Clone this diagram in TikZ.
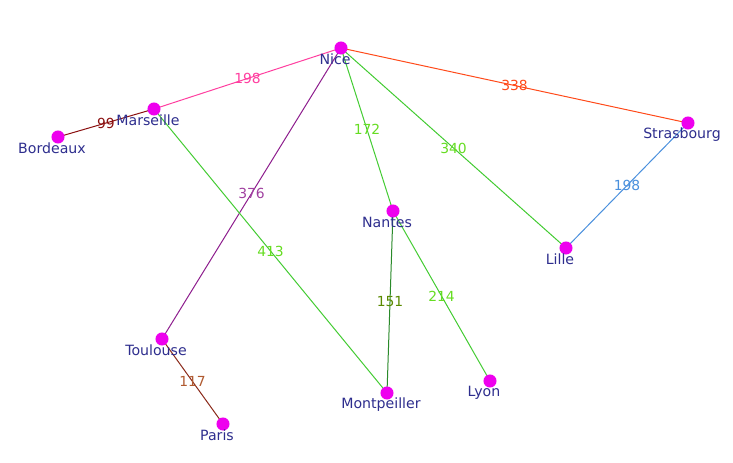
\documentclass[tikz,border=0pt]{standalone}
\usepackage{fontspec}
\setmainfont{DejaVu Sans}
\begin{document}
\begin{tikzpicture}[x=0.75pt,y=-0.75pt,
  city/.style={circle,fill=citydot,inner sep=0pt,minimum size=9.8pt},
  cityname/.style={text=cityink,font=\fontsize{10.6}{12}\selectfont,inner sep=0pt},
  road/.style={line width=0.75pt},
  dist/.style={font=\fontsize{10.4}{12}\selectfont,inner sep=0pt,midway}]
\definecolor{citydot}{HTML}{EE00EE}
\definecolor{cityink}{HTML}{2E2E8E}
\definecolor{cPink}{HTML}{FF3FA0}
\definecolor{cDarkRed}{HTML}{8B1010}
\definecolor{cOrange}{HTML}{FF4A1A}
\definecolor{cGreen}{HTML}{44CC33}
\definecolor{cGreenTxt}{HTML}{66DD22}
\definecolor{cBlue}{HTML}{4A90DD}
\definecolor{cPurple}{HTML}{8E1E8E}
\definecolor{cPurpleTxt}{HTML}{A040A0}
\definecolor{cDarkGreen}{HTML}{2A8A2A}
\definecolor{cOlive}{HTML}{5A8A00}
\definecolor{cBrown}{HTML}{8B2A1A}
\definecolor{cBrownTxt}{HTML}{B05A30}
\useasboundingbox[fill=white] (0,0) rectangle (733,463);

% city positions
\coordinate (Nice) at (341,48);
\coordinate (Marseille) at (154,109);
\coordinate (Bordeaux) at (58,137);
\coordinate (Strasbourg) at (688,123);
\coordinate (Nantes) at (393,211);
\coordinate (Lille) at (566,248);
\coordinate (Toulouse) at (162,339);
\coordinate (Paris) at (223,424);
\coordinate (Montpellier) at (387,393);
\coordinate (Lyon) at (490,381);

% roads with distances
\draw[road,cPink] (Marseille) -- (Nice) node[dist,text=cPink] {198};
\draw[road,cDarkRed] (Bordeaux) -- (Marseille) node[dist,text=cDarkRed] {99};
\draw[road,cOrange] (Nice) -- (Strasbourg) node[dist,text=cOrange] {338};
\draw[road,cGreen] (Nice) -- (Nantes) node[dist,text=cGreenTxt] {172};
\draw[road,cGreen] (Nice) -- (Lille) node[dist,text=cGreenTxt] {340};
\draw[road,cBlue] (Strasbourg) -- (Lille) node[dist,text=cBlue] {198};
\draw[road,cPurple] (Nice) -- (Toulouse) node[dist,text=cPurpleTxt] {376};
\draw[road,cGreen] (Marseille) -- (Montpellier) node[dist,text=cGreenTxt] {413};
\draw[road,cDarkGreen] (Nantes) -- (Montpellier) node[dist,text=cOlive] {151};
\draw[road,cGreen] (Nantes) -- (Lyon) node[dist,text=cGreenTxt] {214};
\draw[road,cBrown] (Toulouse) -- (Paris) node[dist,text=cBrownTxt] {117};

% city dots and names
\foreach \c/\t in {Nice/Nice,Marseille/Marseille,Bordeaux/Bordeaux,Strasbourg/Strasbourg,
  Nantes/Nantes,Lille/Lille,Toulouse/Toulouse,Paris/Paris,Montpellier/Montpeiller,Lyon/Lyon}{
  \node[city] (\c-dot) at (\c) {};
  \node[cityname] (\c-name) at ([xshift=-4.5pt,yshift=-8.5pt]\c) {\t};
}
\end{tikzpicture}
\end{document}
